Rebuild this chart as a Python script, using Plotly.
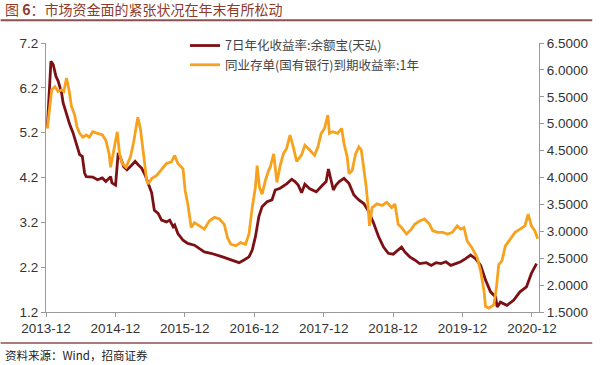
import plotly.graph_objects as go

# 7日年化收益率:余额宝(天弘) — left axis
yeb_dates = [
    "2013-12-08", "2013-12-27", "2014-01-08", "2014-01-22", "2014-02-03", "2014-02-12",
    "2014-02-21", "2014-03-01", "2014-03-19", "2014-04-05", "2014-04-22", "2014-05-10",
    "2014-05-27", "2014-06-10", "2014-06-22", "2014-07-01", "2014-08-04", "2014-08-29",
    "2014-09-23", "2014-10-12", "2014-11-06", "2014-11-13", "2014-12-02", "2014-12-16",
    "2014-12-28", "2015-01-14", "2015-01-31", "2015-02-26", "2015-03-15", "2015-04-01",
    "2015-04-18", "2015-05-06", "2015-05-23", "2015-06-10", "2015-06-24", "2015-07-14",
    "2015-08-01", "2015-08-27", "2015-09-13", "2015-10-01", "2015-10-09", "2015-10-26",
    "2015-11-22", "2015-12-17", "2016-01-21", "2016-02-16", "2016-03-13", "2016-04-17",
    "2016-05-22", "2016-06-17", "2016-07-13", "2016-08-17", "2016-09-12", "2016-10-08",
    "2016-11-03", "2016-11-20", "2016-12-07", "2016-12-25", "2017-01-11", "2017-02-06",
    "2017-03-04", "2017-03-21", "2017-04-16", "2017-05-20", "2017-06-16", "2017-07-03",
    "2017-07-20", "2017-08-07", "2017-08-24", "2017-09-19", "2017-10-23", "2017-11-18",
    "2017-12-14", "2017-12-26", "2018-01-09", "2018-01-21", "2018-02-04", "2018-02-21",
    "2018-03-18", "2018-04-13", "2018-05-09", "2018-06-04", "2018-06-30", "2018-07-26",
    "2018-08-21", "2018-09-16", "2018-10-12", "2018-11-06", "2018-12-02", "2018-12-28",
    "2019-01-15", "2019-02-01", "2019-02-27", "2019-03-25", "2019-04-20", "2019-05-25",
    "2019-06-20", "2019-07-15", "2019-08-10", "2019-09-05", "2019-10-01", "2019-10-27",
    "2019-11-22", "2019-12-18", "2020-01-13", "2020-02-08", "2020-03-06", "2020-04-01",
    "2020-04-27", "2020-05-23", "2020-06-01", "2020-06-18", "2020-07-14", "2020-07-22",
    "2020-08-26", "2020-09-29", "2020-11-02", "2020-11-28", "2020-12-25",
]
yeb_values = [
    5.31, 6.79, 6.72, 6.46, 6.35, 6.20,
    6.09, 5.87, 5.60, 5.38, 5.20, 4.97,
    4.71, 4.67, 4.30, 4.22, 4.21, 4.15,
    4.19, 4.11, 4.22, 4.08, 4.03, 4.75,
    4.64, 4.44, 4.37, 4.48, 4.56, 4.48,
    4.41, 4.26, 4.07, 3.86, 3.47, 3.40,
    3.25, 3.21, 3.25, 3.10, 3.14, 2.95,
    2.80, 2.73, 2.69, 2.62, 2.54, 2.51,
    2.47, 2.43, 2.39, 2.34, 2.30, 2.36,
    2.43, 2.58, 2.88, 3.33, 3.55, 3.66,
    3.70, 3.92, 3.96, 4.06, 4.16, 4.11,
    4.03, 3.86, 4.05, 3.95, 3.88, 4.00,
    4.11, 4.39, 4.11, 3.92, 4.03, 4.11,
    4.18, 4.07, 3.81, 3.70, 3.62, 3.44,
    3.18, 2.88, 2.65, 2.51, 2.49, 2.58,
    2.65, 2.54, 2.43, 2.36, 2.28, 2.30,
    2.24, 2.30, 2.28, 2.32, 2.24, 2.28,
    2.32, 2.39, 2.47, 2.39, 2.24, 1.91,
    1.65, 1.54, 1.31, 1.42, 1.38, 1.35,
    1.46, 1.65, 1.76, 2.06, 2.28,
]

# 同业存单(国有银行)到期收益率:1年 — right axis
ncd_dates = [
    "2013-12-08", "2013-12-22", "2013-12-31", "2014-01-17", "2014-02-03", "2014-02-21",
    "2014-03-05", "2014-03-19", "2014-04-01", "2014-04-14", "2014-05-01", "2014-05-13",
    "2014-05-27", "2014-06-13", "2014-07-01", "2014-07-17", "2014-08-04", "2014-08-29",
    "2014-09-24", "2014-10-12", "2014-10-29", "2014-11-06", "2014-11-23", "2014-12-11",
    "2014-12-23", "2015-01-06", "2015-01-26", "2015-02-18", "2015-03-07", "2015-03-29",
    "2015-04-12", "2015-04-25", "2015-05-08", "2015-05-15", "2015-05-23", "2015-06-10",
    "2015-07-06", "2015-08-01", "2015-08-27", "2015-09-22", "2015-10-09", "2015-10-26",
    "2015-11-22", "2015-12-03", "2015-12-17", "2016-01-04", "2016-01-21", "2016-02-16",
    "2016-03-13", "2016-04-08", "2016-05-05", "2016-05-31", "2016-06-26", "2016-07-13",
    "2016-07-30", "2016-08-25", "2016-09-20", "2016-10-16", "2016-11-03", "2016-11-20",
    "2016-12-07", "2016-12-16", "2016-12-28", "2017-01-11", "2017-01-28", "2017-02-14",
    "2017-02-23", "2017-03-13", "2017-03-30", "2017-04-16", "2017-05-03", "2017-05-20",
    "2017-06-07", "2017-06-24", "2017-07-12", "2017-08-07", "2017-08-24", "2017-09-19",
    "2017-10-14", "2017-11-01", "2017-11-18", "2017-12-05", "2017-12-23", "2017-12-31",
    "2018-01-17", "2018-02-12", "2018-03-06", "2018-03-18", "2018-04-04", "2018-04-13",
    "2018-04-30", "2018-05-18", "2018-06-04", "2018-06-17", "2018-06-30", "2018-07-13",
    "2018-07-23", "2018-07-30", "2018-08-13", "2018-09-08", "2018-10-04", "2018-10-29",
    "2018-11-24", "2018-12-11", "2018-12-28", "2019-01-15", "2019-02-10", "2019-03-08",
    "2019-03-25", "2019-04-20", "2019-05-16", "2019-06-11", "2019-06-28", "2019-07-24",
    "2019-08-19", "2019-09-14", "2019-10-09", "2019-11-04", "2019-11-22", "2019-12-09",
    "2019-12-26", "2020-01-21", "2020-02-17", "2020-03-06", "2020-03-24", "2020-04-01",
    "2020-04-18", "2020-05-14", "2020-05-28", "2020-06-09", "2020-06-26", "2020-07-14",
    "2020-08-08", "2020-09-03", "2020-09-29", "2020-10-25", "2020-11-11", "2020-11-28",
    "2020-12-16", "2020-12-31",
]
ncd_values = [
    4.91, 5.32, 5.63, 5.69, 5.60, 5.63,
    5.60, 5.85, 5.63, 5.32, 5.16, 4.94,
    4.82, 4.75, 4.79, 4.75, 4.85, 4.82,
    4.79, 4.69, 4.44, 4.19, 4.51, 4.85,
    4.44, 4.26, 4.19, 4.38, 4.65, 5.12,
    4.90, 4.55, 4.20, 3.94, 3.88, 3.98,
    4.04, 4.16, 4.26, 4.29, 4.41, 4.26,
    4.16, 3.76, 3.51, 3.07, 3.16, 3.10,
    3.04, 3.19, 3.26, 3.23, 3.13, 2.88,
    2.76, 2.73, 2.79, 2.76, 2.95, 3.44,
    3.82, 4.22, 3.82, 3.69, 3.94, 4.13,
    4.19, 4.44, 3.91, 4.22, 4.44, 4.54,
    4.79, 4.57, 4.30, 4.42, 4.60, 4.51,
    4.41, 4.57, 4.82, 4.91, 5.16, 4.82,
    4.85, 4.82, 4.91, 4.63, 4.38, 4.07,
    4.13, 4.44, 4.57, 4.51, 4.19, 3.82,
    3.44, 3.10, 3.44, 3.51, 3.48, 3.54,
    3.44, 3.51, 3.13, 3.07, 2.95, 3.04,
    3.13, 3.19, 3.23, 3.13, 3.01, 2.98,
    2.98, 2.95, 2.98, 3.10, 3.04, 3.07,
    2.82, 2.69, 2.51, 2.26, 1.88, 1.60,
    1.57, 1.63, 1.95, 2.38, 2.45, 2.73,
    2.85, 2.98, 3.04, 3.10, 3.32, 3.10,
    3.01, 2.86,
]

x_tick_vals = ["2013-12-01", "2014-12-01", "2015-12-01", "2016-12-01",
               "2017-12-01", "2018-12-01", "2019-12-01", "2020-12-01"]
x_tick_text = ["2013-12", "2014-12", "2015-12", "2016-12",
               "2017-12", "2018-12", "2019-12", "2020-12"]
left_ticks = [1.2, 2.2, 3.2, 4.2, 5.2, 6.2, 7.2]
right_ticks = [1.5, 2.0, 2.5, 3.0, 3.5, 4.0, 4.5, 5.0, 5.5, 6.0, 6.5]

title_text = "图 <b>6</b>：市场资金面的紧张状况在年末有所松动"
source_text = "资料来源：Wind，招商证券"

MAROON = "#7C1014"
ORANGE = "#F6A21E"
AXIS = "#9A9A9A"
TICKFONT = dict(family="Liberation Sans, Arial, sans-serif", size=13.5, color="#333333")

fig = go.Figure()
fig.add_trace(go.Scatter(
    x=yeb_dates, y=yeb_values, mode="lines", name="7日年化收益率:余额宝(天弘)",
    line=dict(color=MAROON, width=2.8), yaxis="y"))
fig.add_trace(go.Scatter(
    x=ncd_dates, y=ncd_values, mode="lines", name="同业存单(国有银行)到期收益率:1年",
    line=dict(color=ORANGE, width=2.8), yaxis="y2"))

fig.update_layout(
    width=600, height=365,
    margin=dict(l=46, r=54, t=43, b=53),
    paper_bgcolor="white", plot_bgcolor="white",
    showlegend=True,
    legend=dict(x=0.282, y=1.045, xanchor="left", yanchor="top",
                bgcolor="rgba(0,0,0,0)", tracegroupgap=0,
                font=dict(family="Noto Sans CJK SC", size=12.5, color="#444444"),
                itemwidth=30),
    xaxis=dict(type="date", range=["2013-12-01", "2021-01-07"],
               tickvals=x_tick_vals, ticktext=x_tick_text,
               showgrid=False, zeroline=False,
               showline=True, linecolor=AXIS, linewidth=1,
               ticks="outside", ticklen=4, tickcolor=AXIS,
               tickfont=TICKFONT),
    yaxis=dict(range=[1.2, 7.2], tickvals=left_ticks, tickformat=".1f",
               showgrid=False, zeroline=False,
               showline=True, linecolor=AXIS, linewidth=1,
               ticks="outside", ticklen=4, tickcolor=AXIS,
               tickfont=TICKFONT),
    yaxis2=dict(range=[1.5, 6.5], tickvals=right_ticks, tickformat=".4f",
                overlaying="y", side="right",
                showgrid=False, zeroline=False,
                showline=True, linecolor=AXIS, linewidth=1,
                ticks="outside", ticklen=4, tickcolor=AXIS,
                tickfont=TICKFONT),
    shapes=[
        dict(type="line", xref="paper", yref="paper", x0=-0.092, x1=1.108,
             y0=1.085, y1=1.085, line=dict(color="#8C5050", width=2)),
        dict(type="line", xref="paper", yref="paper", x0=-0.092, x1=1.108,
             y0=-0.115, y1=-0.115, line=dict(color="#8C5050", width=1.5)),
    ],
    annotations=[
        dict(text=title_text, xref="paper", yref="paper", x=-0.088, y=1.125,
             xanchor="left", yanchor="middle", showarrow=False,
             font=dict(family="Noto Sans CJK SC", size=14, color="#8E3A28")),
        dict(text=source_text, xref="paper", yref="paper", x=-0.088, y=-0.16,
             xanchor="left", yanchor="middle", showarrow=False,
             font=dict(family="Noto Sans CJK SC, Liberation Sans", size=11.5, color="#222222")),
    ],
)

fig.write_html("out.html",
               config={"displayModeBar": False},
               post_script="document.body.style.margin='0';document.body.style.overflow='hidden';")
